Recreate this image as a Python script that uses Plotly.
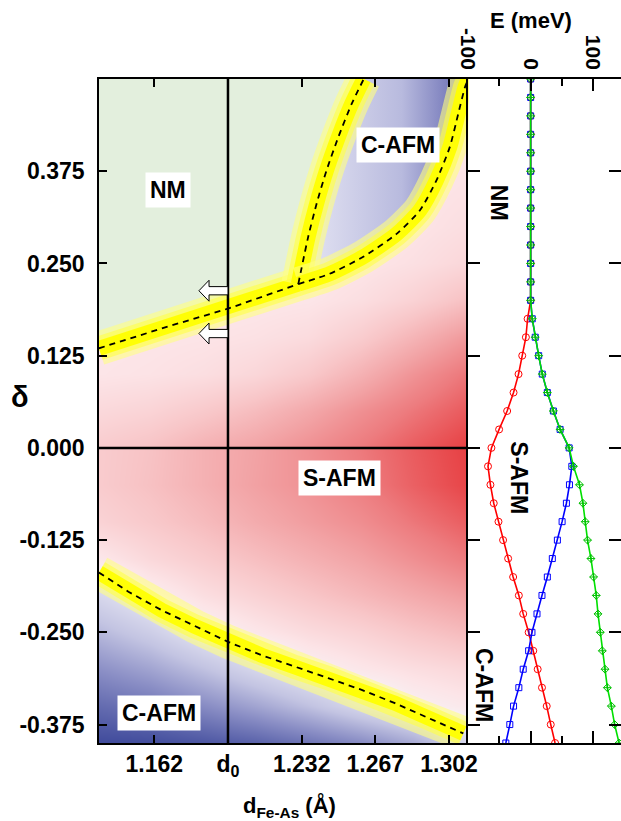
import plotly.graph_objects as go

FONT = "Liberation Sans, Arial, sans-serif"

# ---------------- axis ranges / ticks ----------------
X_MIN, X_MAX = 1.13573, 1.31117          # d_Fe-As (Angstrom)
D0 = 1.197
Y_MIN, Y_MAX = -0.4, 0.5                 # delta
E_MIN, E_MAX = -100, 145                 # meV
SPLIT = 0.7075

d_tickvals = [1.162, 1.197, 1.232, 1.267, 1.302]
d_ticktext = ["1.162", "d<sub>0</sub>", "1.232", "1.267", "1.302"]
delta_tickvals = [-0.375, -0.25, -0.125, 0.0, 0.125, 0.25, 0.375]
delta_ticktext = ["-0.375", "-0.250", "-0.125", "0.000", "0.125", "0.250", "0.375"]
E_tickvals = [-100, 0, 100]
E_ticktext = ["-100", "0", "100"]
E_minorvals = [-50, 50]

# ---------------- phase boundaries ----------------
upper_d = [1.1357, 1.1679, 1.1973, 1.2304]
upper_delta = [0.135, 0.164, 0.189, 0.222]
steep_d = [1.2304, 1.2351, 1.2391, 1.2438, 1.2494, 1.2557, 1.2615]
steep_delta = [0.222, 0.286, 0.331, 0.376, 0.421, 0.466, 0.500]
curved_d = [1.2304, 1.2453, 1.2613, 1.2771, 1.2882, 1.2961, 1.3024, 1.3064, 1.3096, 1.3112]
curved_delta = [0.222, 0.236, 0.259, 0.290, 0.322, 0.363, 0.408, 0.453, 0.489, 0.500]
lower_d = [1.1357, 1.1497, 1.1655, 1.1813, 1.1971, 1.2130, 1.2288, 1.2446, 1.2605, 1.2763, 1.2921, 1.3088]
lower_delta = [-0.169, -0.195, -0.220, -0.242, -0.263, -0.281, -0.297, -0.312, -0.328, -0.346, -0.366, -0.387]

# ---------------- background map (estimated from colour intensity) ----------------
map_d = [1.13, 1.16, 1.185, 1.21, 1.235, 1.26, 1.285, 1.315]
map_delta = [0.5, 0.45, 0.4, 0.35, 0.3, 0.25, 0.2, 0.15, 0.1, 0.05, 0.0,
             -0.05, -0.1, -0.15, -0.2, -0.25, -0.3, -0.35, -0.4]
map_z = [
    [0.05, 0.05, 0.05, 0.05, 0.05, 0.05, 0.06, 0.08],
    [0.05, 0.05, 0.05, 0.05, 0.05, 0.05, 0.07, 0.09],
    [0.05, 0.05, 0.05, 0.05, 0.05, 0.06, 0.08, 0.10],
    [0.05, 0.05, 0.05, 0.05, 0.05, 0.07, 0.09, 0.12],
    [0.05, 0.05, 0.05, 0.05, 0.06, 0.08, 0.10, 0.15],
    [0.05, 0.05, 0.05, 0.06, 0.07, 0.09, 0.13, 0.20],
    [0.06, 0.06, 0.07, 0.08, 0.09, 0.14, 0.22, 0.35],
    [0.08, 0.09, 0.10, 0.12, 0.16, 0.26, 0.40, 0.58],
    [0.09, 0.11, 0.14, 0.19, 0.28, 0.42, 0.58, 0.75],
    [0.17, 0.21, 0.28, 0.36, 0.47, 0.60, 0.72, 0.86],
    [0.25, 0.32, 0.42, 0.50, 0.60, 0.71, 0.83, 0.96],
    [0.25, 0.33, 0.42, 0.51, 0.59, 0.69, 0.81, 0.94],
    [0.20, 0.28, 0.36, 0.45, 0.53, 0.61, 0.72, 0.84],
    [0.05, 0.18, 0.26, 0.34, 0.42, 0.50, 0.60, 0.72],
    [-0.18, 0.02, 0.14, 0.22, 0.30, 0.38, 0.46, 0.55],
    [-0.40, -0.22, -0.02, 0.08, 0.16, 0.22, 0.30, 0.38],
    [-0.62, -0.48, -0.32, -0.15, 0.00, 0.08, 0.14, 0.20],
    [-0.82, -0.74, -0.62, -0.48, -0.32, -0.14, 0.00, 0.08],
    [-1.00, -0.98, -0.93, -0.86, -0.75, -0.62, -0.45, -0.10],
]

# ---------------- energies (right panel) ----------------
delta_pts = [0.5, 0.475, 0.45, 0.425, 0.4, 0.375, 0.35, 0.325, 0.3, 0.275, 0.25, 0.225, 0.2,
             0.175, 0.15, 0.125, 0.1, 0.075, 0.05, 0.025, 0.0, -0.025, -0.05, -0.075, -0.1,
             -0.125, -0.15, -0.175, -0.2, -0.225, -0.25, -0.275, -0.3, -0.325, -0.35,
             -0.375, -0.4]
E_red = [0, 0, 0, 0, 0, 0, 0, 0, 0, 0, 0, 0, 0,
         -4.9, -7.6, -13.5, -19.4, -27.4, -37.7, -50.6, -62.9, -68.4, -64.5, -59.2, -51.6,
         -44.2, -36.1, -28.1, -18.9, -11.9, -3.2, 4.2, 11.3, 18.2, 25.8, 32.3, 39.2]
E_blue = [0, 0, 0, 0, 0, 0, 0, 0, 0, 0, 0, 0, 0,
          2.6, 7.4, 12.9, 18.7, 26.8, 36.5, 47.3, 61.8, 66.1, 62.3, 57.4, 50.5,
          42.9, 34.8, 26.8, 18.2, 10.2, 2.1, -3.2, -11.9, -18.9, -27.4, -33.4, -39.8]
E_green = [0, 0, 0, 0, 0, 0, 0, 0, 0, 0, 0, 0, 0,
           2.6, 7.4, 12.9, 18.7, 26.8, 36.5, 47.3, 61.8, 68.7, 78.4, 83.9, 87.6,
           91.3, 96.8, 101.0, 105.3, 108.1, 111.8, 115.0, 119.4, 123.1, 129.5, 134.8, 141.9]

# ---------------- labels ----------------
region_text = ["NM", "C-AFM", "S-AFM", "C-AFM"]
region_d = [1.1687, 1.2778, 1.2501, 1.1640]
region_delta = [0.349, 0.411, -0.041, -0.360]
side_text = ["NM", "S-AFM", "C-AFM"]
side_E = [-50.6, -19.0, -73.7]
side_delta = [0.332, -0.041, -0.321]
arrow_delta = [0.213, 0.155]

# page geometry (pixels) used to place titles in plot-area ("paper") fractions
W, H = 621, 821
ML, MR, MT, MB = 99, 0, 79, 78
PW, PH = W - ML - MR, H - MT - MB


def px_to_paper(px, py):
    return (px - ML) / PW, 1 - (py - MT) / PH


fig = go.Figure()

# background map
fig.add_trace(go.Heatmap(
    x=map_d, y=map_delta, z=map_z, zmin=-1, zmax=1, zsmooth="best", showscale=False,
    hoverinfo="skip",
    colorscale=[[0.0, "#3f4a9b"], [0.2, "#8a8ec5"], [0.35, "#c3c4e2"], [0.45, "#dcdcee"],
                [0.5, "#f8f0f3"], [0.55, "#fce4e7"], [0.65, "#f8c6c8"], [0.75, "#f2a3a5"],
                [0.85, "#ed7c7f"], [0.95, "#e84a4d"], [1.0, "#e53337"]],
    xaxis="x", yaxis="y"))

# NM region
nm_x = [X_MIN] + upper_d + steep_d[1:] + [X_MIN]
nm_y = [Y_MAX] + upper_delta + steep_delta[1:] + [Y_MAX]
fig.add_trace(go.Scatter(x=nm_x, y=nm_y, mode="lines", fill="toself",
                         fillcolor="#e3efdd", line=dict(width=0), hoverinfo="skip"))

# C-AFM wedge (top right)
w_x = steep_d + [X_MAX + 0.01] + curved_d[::-1]
w_y = steep_delta + [Y_MAX] + curved_delta[::-1]
fig.add_trace(go.Scatter(
    x=w_x, y=w_y, mode="lines", fill="toself", line=dict(width=0), hoverinfo="skip",
    fillgradient=dict(type="horizontal", start=1.24, stop=1.312,
                      colorscale=[[0, "#dedef0"], [0.55, "#b8bade"], [1, "#6064ae"]])))

boundaries = [(upper_d, upper_delta, "linear"), (steep_d, steep_delta, "spline"),
              (curved_d, curved_delta, "spline"), (lower_d, lower_delta, "linear")]

# yellow bands + dashed boundaries
for bx, by, shp in boundaries:
    for w, c in [(34, "rgba(255,255,130,0.6)"), (24, "rgba(255,255,70,0.6)"),
                 (15, "rgba(255,255,0,0.95)")]:
        fig.add_trace(go.Scatter(x=bx, y=by, mode="lines", hoverinfo="skip",
                                 line=dict(color=c, width=w, shape=shp, smoothing=0.6)))
for bx, by, shp in boundaries:
    fig.add_trace(go.Scatter(x=bx, y=by, mode="lines", hoverinfo="skip",
                             line=dict(color="black", width=1.8, dash="6px,5px",
                                       shape=shp, smoothing=0.6)))

# right panel energy curves
fig.add_trace(go.Scatter(x=E_red, y=delta_pts, xaxis="x2", yaxis="y2", mode="lines+markers",
                         line=dict(color="#ff0000", width=1.6),
                         marker=dict(symbol="circle-open", size=7, color="#ff0000",
                                     line=dict(width=1))))
fig.add_trace(go.Scatter(x=E_blue, y=delta_pts, xaxis="x2", yaxis="y2", mode="lines+markers",
                         line=dict(color="#0000ff", width=1.6),
                         marker=dict(symbol="square-open", size=6, color="#0000ff",
                                     line=dict(width=1))))
fig.add_trace(go.Scatter(x=E_green, y=delta_pts, xaxis="x2", yaxis="y2", mode="lines+markers",
                         line=dict(color="#00e000", width=1.6),
                         marker=dict(symbol="diamond-cross-open", size=6, color="#00c000",
                                     line=dict(width=1))))

# lines at d0 and delta = 0, and arrows
shapes = [
    dict(type="line", xref="x", yref="y", x0=D0, x1=D0, y0=Y_MIN, y1=Y_MAX,
         line=dict(color="black", width=2.5), layer="above"),
    dict(type="line", xref="x", yref="y", x0=X_MIN, x1=X_MAX, y0=0, y1=0,
         line=dict(color="black", width=2.5), layer="above"),
]
L, HL, HH, BH = 0.0138, 0.0048, 0.0142, 0.0056
for a in arrow_delta:
    tip, hb = D0 - L, D0 - L + HL
    path = (f"M {tip},{a} L {hb},{a + HH} L {hb},{a + BH} L {D0},{a + BH} "
            f"L {D0},{a - BH} L {hb},{a - BH} L {hb},{a - HH} Z")
    shapes.append(dict(type="path", xref="x", yref="y", path=path, fillcolor="white",
                       line=dict(color="black", width=1), layer="above"))

annotations = []
for t, x, y in zip(region_text, region_d, region_delta):
    annotations.append(dict(x=x, y=y, xref="x", yref="y", text=f"<b>{t}</b>", showarrow=False,
                            bgcolor="white", borderpad=4, xanchor="center", yanchor="middle",
                            font=dict(size=23, family=FONT, color="black")))
for t, x, y in zip(side_text, side_E, side_delta):
    annotations.append(dict(x=x, y=y, xref="x2", yref="y2", text=f"<b>{t}</b>", showarrow=False,
                            textangle=90, xanchor="center", yanchor="middle",
                            font=dict(size=23, family=FONT, color="black")))
ex, ey = px_to_paper(531, 20)
tx, ty = px_to_paper(289, 806)
dx, dy = px_to_paper(20, 397)
annotations += [
    dict(x=ex, y=ey, xref="paper", yref="paper", text="<b>E (meV)</b>",
         xanchor="center", yanchor="middle",
         showarrow=False, font=dict(size=22, family=FONT, color="black")),
    dict(x=tx, y=ty, xref="paper", yref="paper",
         text="<b>d<sub>Fe-As</sub> (Å)</b>", showarrow=False,
         xanchor="center", yanchor="middle",
         font=dict(size=22, family=FONT, color="black")),
    dict(x=dx, y=dy, xref="paper", yref="paper", text="<b>δ</b>",
         xanchor="center", yanchor="middle",
         showarrow=False, font=dict(size=29, family=FONT, color="black")),
]

axis_common = dict(showgrid=False, zeroline=False, showline=True, linecolor="black",
                   linewidth=1.5, tickcolor="black", tickwidth=1.5, ticks="inside",
                   automargin=False)

fig.update_layout(
    width=W, height=H,
    margin=dict(l=ML, r=MR, t=MT, b=MB, autoexpand=False),
    paper_bgcolor="white", plot_bgcolor="white",
    showlegend=False,
    font=dict(family=FONT, color="black"),
    xaxis=dict(domain=[0, SPLIT], anchor="y", range=[X_MIN, X_MAX], tickmode="array",
               tickvals=d_tickvals, ticktext=d_ticktext, ticklen=8, mirror="ticks",
               tickfont=dict(size=23, weight="bold"), **axis_common),
    yaxis=dict(domain=[0, 1], anchor="x", range=[Y_MIN, Y_MAX], tickmode="array",
               tickvals=delta_tickvals, ticktext=delta_ticktext, ticklen=8, mirror=False,
               ticklabelstandoff=8, tickfont=dict(size=23, weight="bold"), **axis_common),
    xaxis2=dict(domain=[SPLIT, 1], anchor="y2", side="top", range=[E_MIN, E_MAX],
                tickmode="array", tickvals=E_tickvals, ticktext=E_ticktext, tickangle=90,
                ticklen=12, mirror="ticks", tickfont=dict(size=21, weight="bold"),
                minor=dict(tickmode="array", tickvals=E_minorvals, ticks="inside", ticklen=7,
                           tickcolor="black", tickwidth=1.5),
                **axis_common),
    yaxis2=dict(domain=[0, 1], anchor="x2", range=[Y_MIN, Y_MAX], tickmode="array",
                tickvals=delta_tickvals, showticklabels=False, ticklen=12, mirror="ticks",
                **axis_common),
    shapes=shapes,
    annotations=annotations,
)

fig.write_html("out.html")
